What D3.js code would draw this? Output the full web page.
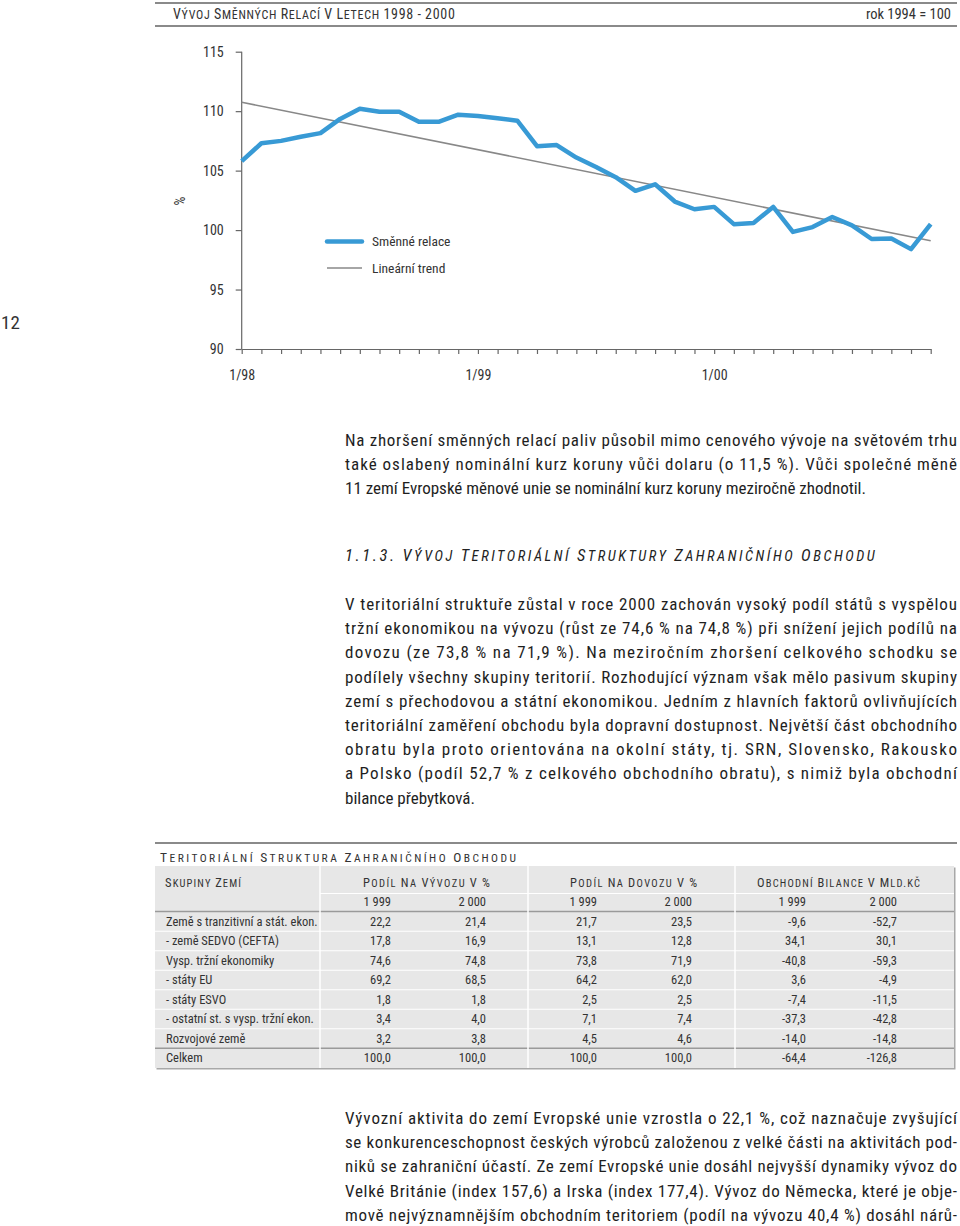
<!DOCTYPE html>
<html><head><meta charset="utf-8">
<script src="https://cdn.jsdelivr.net/npm/d3@7"></script>
<style>
html,body{margin:0;padding:0;background:#fff;}
svg{display:block;}
</style></head>
<body>
<svg id="page" width="960" height="1226"></svg>
<script>
// ---------- DATA ----------
const months = ["1/98","2/98","3/98","4/98","5/98","6/98","7/98","8/98","9/98","10/98","11/98","12/98",
                "1/99","2/99","3/99","4/99","5/99","6/99","7/99","8/99","9/99","10/99","11/99","12/99",
                "1/00","2/00","3/00","4/00","5/00","6/00","7/00","8/00","9/00","10/00","11/00","12/00"];
const termsOfTrade = [105.8,107.3,107.5,107.85,108.15,109.35,110.2,109.95,109.95,109.1,109.1,109.7,
                      109.6,109.4,109.2,107.05,107.15,106.1,105.3,104.45,103.3,103.85,102.4,101.75,
                      101.95,100.5,100.6,101.95,99.85,100.25,101.1,100.4,99.25,99.3,98.4,100.5];
const trendEnds = [110.75, 99.1];           // linear trend at first and last month
const yTicks = [90,95,100,105,110,115];
const xLabels = ["1/98","1/99","1/00"];
const legendLabels = ["Směnné relace","Lineární trend"];

const chartTitle = "VÝVOJ SMĚNNÝCH RELACÍ V LETECH 1998 - 2000";
const chartNote = "rok 1994 = 100";
const para1 = ["Na zhoršení směnných relací paliv působil mimo cenového vývoje na světovém trhu",
  "také oslabený nominální kurz koruny vůči dolaru (o 11,5 %). Vůči společné měně",
  "11 zemí Evropské měnové unie se nominální kurz koruny meziročně zhodnotil."];
const heading = "1.1.3. VÝVOJ TERITORIÁLNÍ STRUKTURY ZAHRANIČNÍHO OBCHODU";
const para2 = ["V teritoriální struktuře zůstal v roce 2000 zachován vysoký podíl států s vyspělou",
  "tržní ekonomikou na vývozu (růst ze 74,6 % na 74,8 %) při snížení jejich podílů na",
  "dovozu (ze 73,8 % na 71,9 %). Na meziročním zhoršení celkového schodku se",
  "podílely všechny skupiny teritorií. Rozhodující význam však mělo pasivum skupiny",
  "zemí s přechodovou a státní ekonomikou. Jedním z hlavních faktorů ovlivňujících",
  "teritoriální zaměření obchodu byla dopravní dostupnost. Největší část obchodního",
  "obratu byla proto orientována na okolní státy, tj. SRN, Slovensko, Rakousko",
  "a Polsko (podíl 52,7 % z celkového obchodního obratu), s nimiž byla obchodní",
  "bilance přebytková."];
const para3 = ["Vývozní aktivita do zemí Evropské unie vzrostla o 22,1 %, což naznačuje zvyšující",
  "se konkurenceschopnost českých výrobců založenou z velké části na aktivitách pod-",
  "niků se zahraniční účastí. Ze zemí Evropské unie dosáhl nejvyšší dynamiky vývoz do",
  "Velké Británie (index 157,6) a Irska (index 177,4). Vývoz do Německa, které je obje-",
  "mově nejvýznamnějším obchodním teritoriem (podíl na vývozu 40,4 %) dosáhl nárů-"];

const tableTitle = "TERITORIÁLNÍ STRUKTURA ZAHRANIČNÍHO OBCHODU";
const tableHeaders = ["SKUPINY ZEMÍ","PODÍL NA VÝVOZU V %","PODÍL NA DOVOZU V %","OBCHODNÍ BILANCE V MLD.KČ"];
const years = [1999, 2000];
const groups = ["Země s tranzitivní a stát. ekon.","- země SEDVO (CEFTA)","Vysp. tržní ekonomiky","- státy EU",
  "- státy ESVO","- ostatní st. s vysp. tržní ekon.","Rozvojové země","Celkem"];
const export1999 = [22.2,17.8,74.6,69.2,1.8,3.4,3.2,100.0];
const export2000 = [21.4,16.9,74.8,68.5,1.8,4.0,3.8,100.0];
const import1999 = [21.7,13.1,73.8,64.2,2.5,7.1,4.5,100.0];
const import2000 = [23.5,12.8,71.9,62.0,2.5,7.4,4.6,100.0];
const balance1999 = [-9.6,34.1,-40.8,3.6,-7.4,-37.3,-14.0,-64.4];
const balance2000 = [-52.7,30.1,-59.3,-4.9,-11.5,-42.8,-14.8,-126.8];

// ---------- STYLE ----------
const FONT = "'Liberation Sans Narrow','Roboto Condensed',Roboto,'Open Sans',sans-serif";
const TXT = "#333";
const svg = d3.select("#page").style("font-family", FONT);

// small-caps look: first letter of each word larger (numbers full size); spread with letter-spacing to target width
function smallCaps(sel, text, big, small, target){
  text.split(/(\s+)/).forEach(w=>{
    if(!w.length) return;
    if(/^\s+$/.test(w)){ sel.append("tspan").attr("font-size",small).text(w); return; }
    if(!/\p{L}/u.test(w)){ sel.append("tspan").attr("font-size",big).text(w); return; }
    const first = w.charAt(0), rest = w.slice(1);
    sel.append("tspan").attr("font-size", /\p{L}/u.test(first) ? big : small).text(first);
    if(rest) sel.append("tspan").attr("font-size",small).text(rest);
  });
  if(target){
    const w = sel.node().getComputedTextLength();
    const n = Array.from(text).length;
    const ls = Math.max(0,(target - w)/(n-1));
    sel.attr("letter-spacing", ls.toFixed(2));
  }
  return sel;
}

// ---------- CHART HEADER ----------
svg.append("line").attr("x1",155).attr("x2",957).attr("y1",3).attr("y2",3).attr("stroke","#8a8a8a").attr("stroke-width",2);
svg.append("line").attr("x1",155).attr("x2",957).attr("y1",26).attr("y2",26).attr("stroke","#8a8a8a").attr("stroke-width",2);
smallCaps(svg.append("text").attr("x",173).attr("y",19).attr("fill",TXT), chartTitle, 14, 12, 282);
svg.append("text").attr("x",951).attr("y",19).attr("font-size",14.5).attr("text-anchor","end").attr("fill",TXT).text(chartNote);

// page number
svg.append("text").attr("x",1).attr("y",329).attr("font-size",19).attr("fill",TXT).text("12");

// ---------- LINE CHART ----------
const x = d3.scalePoint().domain(months).range([241.7, 930.7]);
const y = d3.scaleLinear().domain([90,115]).range([349, 51.7]);

const gY = svg.append("g").attr("transform","translate(241.7,0)")
  .call(d3.axisLeft(y).tickValues(yTicks).tickSize(6).tickPadding(12).tickSizeOuter(0));
const gX = svg.append("g").attr("transform","translate(0,349)")
  .call(d3.axisBottom(x).tickSize(5).tickSizeOuter(0).tickPadding(16)
        .tickFormat(d => xLabels.includes(d) ? d : ""));
[gX,gY].forEach(g=>{
  g.selectAll("path,line").attr("stroke","#666").attr("stroke-width",1.2);
  g.selectAll("text").attr("font-size",14).attr("fill",TXT).attr("font-family",FONT);
});
gY.select(".domain").attr("d","M0,"+y(90)+"V"+y(115));

svg.append("text").attr("transform","translate(185,201) rotate(-90)").attr("font-size",14)
  .attr("text-anchor","middle").attr("fill",TXT).text("%");

// trend
svg.append("line")
  .attr("x1",x(months[0])).attr("y1",y(trendEnds[0]))
  .attr("x2",x(months[months.length-1])).attr("y2",y(trendEnds[1]))
  .attr("stroke","#888").attr("stroke-width",1.6);
// series
svg.append("path").datum(termsOfTrade)
  .attr("d", d3.line().x((d,i)=>x(months[i])).y(d=>y(d)))
  .attr("fill","none").attr("stroke","#389ad5").attr("stroke-width",4.5).attr("stroke-linejoin","round");

// legend
const lg = svg.append("g");
lg.append("line").attr("x1",327).attr("x2",362).attr("y1",241.5).attr("y2",241.5).attr("stroke","#389ad5").attr("stroke-width",4.5).attr("stroke-linecap","round");
lg.append("line").attr("x1",327).attr("x2",362).attr("y1",268).attr("y2",268).attr("stroke","#888").attr("stroke-width",1.6);
legendLabels.forEach((t,i)=>{
  lg.append("text").attr("x",372).attr("y",[241.5,268][i]).attr("dy","0.35em").attr("font-size",13.5).attr("fill",TXT).text(t);
});

// ---------- BODY TEXT ----------
const BODY = 17, LEFT = 345, RIGHT = 957;
function paragraph(lines, y0, lh, justifyLast){
  lines.forEach((t,i)=>{
    const el = svg.append("text").attr("x",LEFT).attr("y",y0+i*lh).attr("font-size",BODY).attr("fill","#1e1e1e").text(t);
    if(i < lines.length-1 || justifyLast) el.attr("textLength",RIGHT-LEFT).attr("lengthAdjust","spacing");
  });
}
paragraph(para1, 446, 24.2, false);
smallCaps(svg.append("text").attr("x",LEFT).attr("y",561).attr("font-style","italic").attr("fill","#222"), heading, 16.5, 14.5, 530);
paragraph(para2, 610, 24.2, false);
paragraph(para3, 1124, 24.2, true);

// ---------- TABLE ----------
const loc = d3.formatLocale({decimal:",", thousands:" ", grouping:[3], currency:["",""], minus:"-"});
const fNum = loc.format(".1f"), fYear = loc.format(",d");
const T = {x0:155, x1:954, yTop:866, yBot:1068, colX:[320,528,735], rowY0:921.5, rowH:19.5};
svg.append("line").attr("x1",155).attr("x2",957).attr("y1",843).attr("y2",843).attr("stroke","#8a8a8a").attr("stroke-width",2);
smallCaps(svg.append("text").attr("x",160).attr("y",862).attr("fill",TXT), tableTitle, 13.5, 11.5, 356);

// shadow + bg
svg.append("rect").attr("x",T.x0+1.5).attr("y",T.yTop+1.5).attr("width",T.x1-T.x0).attr("height",T.yBot-T.yTop).attr("fill","#a8a8a8");
svg.append("rect").attr("x",T.x0).attr("y",T.yTop).attr("width",T.x1-T.x0).attr("height",T.yBot-T.yTop).attr("fill","#e7e7e7");

const rowY = d3.range(groups.length).map(i=>T.rowY0+i*T.rowH);
rowY.slice(1).forEach((ry,i)=>{
  const yy = ry - T.rowH/2;
  const last = i === groups.length-2;
  svg.append("line").attr("x1",T.x0).attr("x2",T.x1).attr("y1",yy).attr("y2",yy)
    .attr("stroke", last ? "#9a9a9a" : "#fff").attr("stroke-width", last?1.5:1);
});
svg.append("line").attr("x1",T.colX[0]).attr("x2",T.x1).attr("y1",893.5).attr("y2",893.5).attr("stroke","#fff").attr("stroke-width",1.2);
svg.append("line").attr("x1",T.x0).attr("x2",T.x1).attr("y1",911.5).attr("y2",911.5).attr("stroke","#9a9a9a").attr("stroke-width",1.5);
T.colX.forEach(cx=>svg.append("line").attr("x1",cx).attr("x2",cx).attr("y1",T.yTop).attr("y2",T.yBot).attr("stroke","#fff").attr("stroke-width",1.5));

// headers
const hdrStart = [165, 363, 570, 757], hdrLen = [76, 127, 127, 163];
tableHeaders.forEach((h,i)=>{
  smallCaps(svg.append("text").attr("x",hdrStart[i]).attr("y",887).attr("fill",TXT), h, 12.5, 10.5, hdrLen[i]);
});
const rightX = [391,486,597,692,806,897];
rightX.forEach((rx,i)=>{
  svg.append("text").attr("x",rx).attr("y",906).attr("font-size",12.5).attr("text-anchor","end").attr("fill",TXT).text(fYear(years[i%2]));
});
const cols = [export1999,export2000,import1999,import2000,balance1999,balance2000];
groups.forEach((g,r)=>{
  svg.append("text").attr("x",166).attr("y",rowY[r]).attr("dy","0.35em").attr("font-size",12.5).attr("fill",TXT).text(g);
  cols.forEach((c,k)=>{
    svg.append("text").attr("x",rightX[k]).attr("y",rowY[r]).attr("dy","0.35em").attr("font-size",12.5)
      .attr("text-anchor","end").attr("fill",TXT).text(fNum(c[r]));
  });
});
</script>
</body></html>
